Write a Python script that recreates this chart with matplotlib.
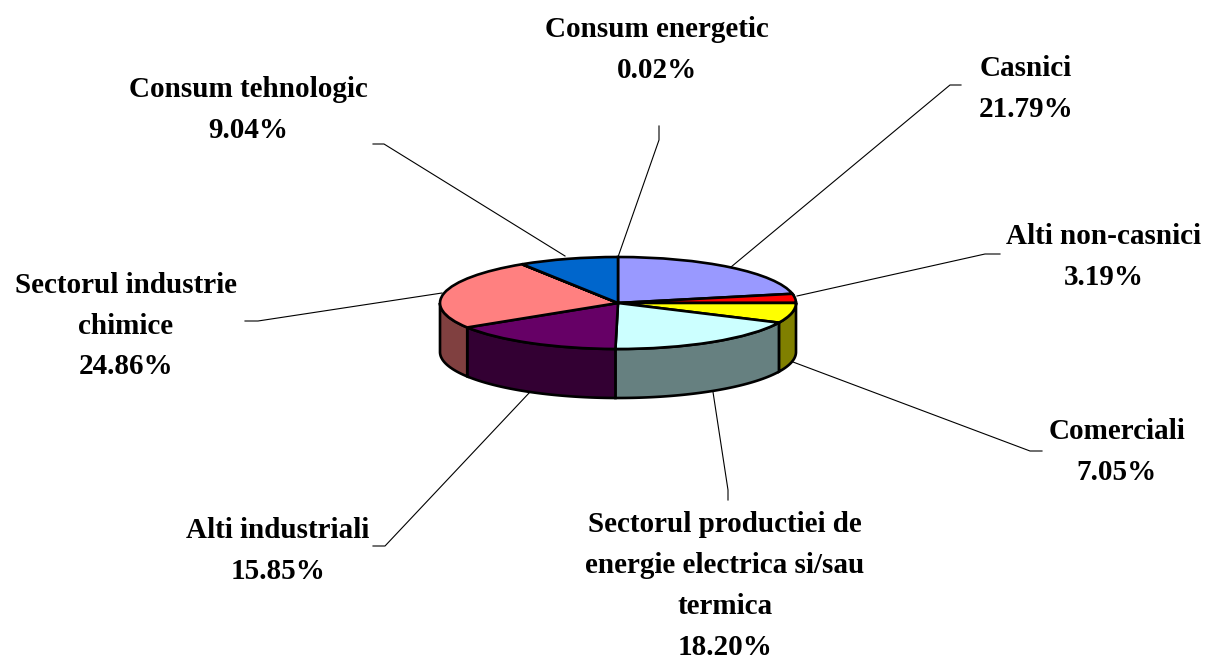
import numpy as np
import matplotlib
matplotlib.use("Agg")
import matplotlib.pyplot as plt
from matplotlib.patches import Polygon
from matplotlib.lines import Line2D

# ---- data ----
categories = ["Casnici", "Alti non-casnici", "Comerciali",
              "Sectorul productiei de\nenergie electrica si/sau\ntermica",
              "Alti industriali", "Sectorul industrie\nchimice",
              "Consum energetic", "Consum tehnologic"]
values = [21.79, 3.19, 7.05, 18.20, 15.85, 24.86, 0.02, 9.04]

# ---- styles ----
top_colors = ["#9999FF", "#FF0000", "#FFFF00", "#CCFFFF",
              "#660066", "#FF8080", "#0066CC", "#0066CC"]
side_colors = ["#4C4C80", "#800000", "#808000", "#668080",
               "#330033", "#804040", "#003366", "#003366"]

W, H = 1207, 663
CX, CY, RX, RY, DEPTH = 618, 303, 178, 46, 49
label_pos = [(1026, 89), (1104, 257), (1117, 452), (725, 586),
             (278, 551), (126, 326), (657, 50), (248, 110)]
leaders = [[(731, 267), (950, 85), (961, 85)],
           [(797, 296), (985, 254), (1000, 254)],
           [(793, 362), (1030, 451), (1042, 451)],
           [(713, 392), (728, 490), (728, 500)],
           [(530, 392), (385, 546), (373, 546)],
           [(442, 293), (258, 321), (245, 321)],
           [(618, 257), (659, 140), (659, 126)],
           [(565, 256), (384, 144), (373, 144)]]

fig = plt.figure(figsize=(W / 100, H / 100), dpi=100, facecolor="white")
ax = fig.add_axes([0, 0, 1, 1])

# top face
ax.pie(values, colors=top_colors, startangle=90, counterclock=False, radius=1,
       wedgeprops=dict(edgecolor="black", linewidth=1.9, zorder=3))
ax.set_aspect("auto")
ax.set_xlim(-CX / RX, (W - CX) / RX)
ax.set_ylim(-(H - CY) / RY, CY / RY)
ax.axis("off")

# side wall: the front half of each slice, extruded downward
d = DEPTH / RY
start = 90.0
total = sum(values)
for v, c in zip(values, side_colors):
    end = start - v / total * 360
    a0, a1 = max(end, -180.0), min(start, 0.0)
    if a1 > a0:
        t = np.radians(np.linspace(a0, a1, 60))
        x, y = np.cos(t), np.sin(t)
        pts = np.r_[np.c_[x, y], np.c_[x[::-1], y[::-1] - d]]
        ax.add_patch(Polygon(pts, closed=True, facecolor=c, edgecolor="black",
                             linewidth=1.9, zorder=1))
    start = end

# leader lines
for seg in leaders:
    xs = [p[0] / W for p in seg]
    ys = [1 - p[1] / H for p in seg]
    fig.add_artist(Line2D(xs, ys, color="black", linewidth=0.8))

# labels
for name, v, (px, py) in zip(categories, values, label_pos):
    fig.text(px / W, 1 - py / H, f"{name}\n{v:.2f}%", ha="center", va="center",
             family="Liberation Serif", weight="bold", fontsize=21,
             linespacing=1.66, color="black")

fig.savefig("out.png", dpi=100, facecolor="white")
